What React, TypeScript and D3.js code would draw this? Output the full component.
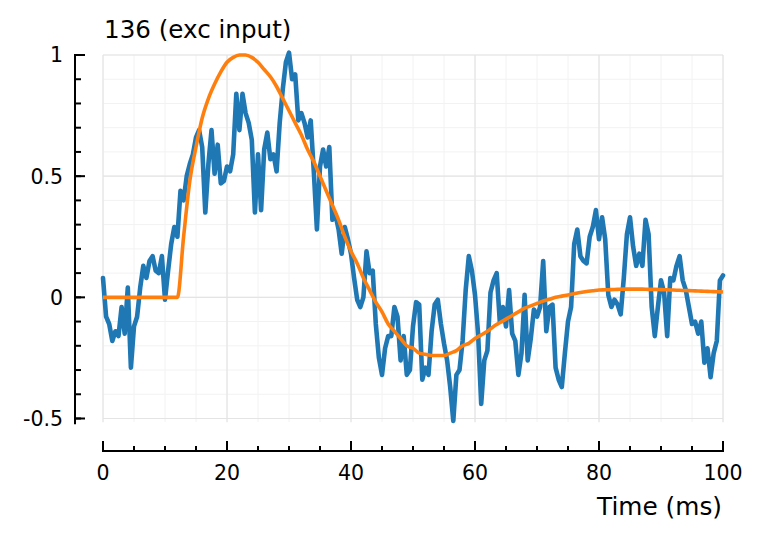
import React from 'react';
import * as d3 from 'd3';

// sampled response, one value every 0.5 ms from 0 to 100 ms
const inputStep = 0.5;
const inputValues = [
  0.08, -0.08, -0.11, -0.18, -0.14, -0.16, -0.04, -0.15, 0.04, -0.29,
  -0.12, -0.08, 0.04, 0.13, 0.08, 0.15, 0.17, 0.11, 0.10, 0.17,
  -0.01, 0.11, 0.22, 0.29, 0.25, 0.44, 0.40, 0.50, 0.55, 0.59,
  0.66, 0.69, 0.62, 0.35, 0.55, 0.69, 0.51, 0.63, 0.47, 0.48,
  0.54, 0.52, 0.59, 0.84, 0.69, 0.84, 0.76, 0.72, 0.65, 0.35,
  0.59,
  0.36, 0.61, 0.68, 0.57, 0.59, 0.52, 0.72, 0.86, 0.97, 1.01,
  0.90, 0.92, 0.73, 0.76, 0.72, 0.66, 0.73, 0.52, 0.28, 0.54,
  0.61, 0.54, 0.62, 0.32, 0.34, 0.28, 0.18, 0.29, 0.24, 0.18,
  0.08, -0.01, -0.04, 0.0, 0.19, 0.10, 0.11, -0.11, -0.25, -0.32,
  -0.21, -0.16, -0.16, -0.04, -0.08, -0.26, -0.16, -0.32, -0.30, -0.12,
  -0.02, -0.03, -0.34, -0.29, -0.32, -0.14, -0.03, -0.01, -0.11, -0.19,
  -0.26, -0.37, -0.51, -0.32, -0.30, -0.18, 0.03, 0.17, 0.11, 0.01,
  -0.15, -0.44, -0.26, -0.22, 0.02, 0.07, 0.10, -0.10, -0.04, -0.12,
  0.03, -0.15, -0.18, -0.32, -0.23, 0.01, -0.26, -0.17, -0.05, -0.08,
  -0.04, 0.15, -0.14, -0.04, -0.03, -0.29, -0.34, -0.37, -0.23, -0.10,
  -0.04, 0.22, 0.28, 0.17, 0.15, 0.14, 0.25, 0.29, 0.36, 0.24,
  0.33, 0.24, 0.01, -0.04, -0.01, -0.03, -0.07, 0.08, 0.26, 0.33,
  0.21, 0.13, 0.18, 0.13, 0.32, 0.26, -0.04, -0.16, -0.04, 0.07,
  0.02, -0.16, 0.08, 0.07, 0.13, 0.17, 0.07, 0.03, -0.04, -0.11,
  -0.10, -0.15, -0.10, -0.27, -0.21, -0.33, -0.23, -0.18, 0.07, 0.09,
];

// fitted curve, one value every 1 ms
const fitStep = 1;
const fitValues = [
  0, 0, 0, 0, 0, 0, 0, 0, 0, 0, 0, 0, 0,
  0.25, 0.48, 0.62, 0.74, 0.82, 0.88, 0.93, 0.97, 0.99, 1.0,
  1.0, 0.99, 0.97, 0.94, 0.91, 0.87, 0.82, 0.77, 0.72, 0.67,
  0.61, 0.56, 0.50, 0.44, 0.38, 0.32, 0.25, 0.19, 0.14, 0.08,
  0.03, -0.02, -0.06, -0.11, -0.14, -0.17, -0.20, -0.21, -0.23, -0.235,
  -0.24, -0.24, -0.24, -0.23, -0.22, -0.20, -0.19, -0.17, -0.155, -0.14,
  -0.12, -0.105, -0.09, -0.075, -0.06, -0.045, -0.035, -0.025, -0.015, -0.008,
  0.0, 0.005, 0.01, 0.015, 0.02, 0.024, 0.027, 0.03, 0.031, 0.032,
  0.033, 0.034, 0.034, 0.034, 0.034, 0.033, 0.033, 0.032, 0.031, 0.030,
  0.029, 0.028, 0.027, 0.026, 0.025, 0.024, 0.023, 0.022,
];

const xMajor = [0, 20, 40, 60, 80, 100];
const xMinor = d3.range(0, 101, 5);
const yMajor = [-0.5, 0, 0.5, 1];
const yMinor = d3.range(-5, 11).map(d => d / 10);
const yLabels = ['-0.5', '0', '0.5', '1'];

const title = '136 (exc input)';
const xTitle = 'Time (ms)';

const font = 'DejaVu Sans, sans-serif';

export default function App() {
  const x = d3.scaleLinear().domain([0, 100]).range([103, 723]);
  const y = d3.scaleLinear().domain([-0.5, 1]).range([418.5, 55]);
  const yLow = y(-0.515);
  const axisX = 75;
  const axisY = 451;

  const line = d3.line<[number, number]>()
    .x(d => x(d[0]))
    .y(d => y(d[1]));
  const smooth = d3.line<[number, number]>()
    .x(d => x(d[0]))
    .y(d => y(d[1]))
    .curve(d3.curveMonotoneX);

  const inputPts = inputValues.map((v, i) => [i * inputStep, v] as [number, number]);
  const fitPts = fitValues.map((v, i) => [i * fitStep, v] as [number, number]);

  return (
    <svg width={764} height={540} style={{ position: 'absolute', left: 0, top: 0, background: '#fff' }}>
      {/* grid */}
      <g>
        {yMinor.map(d => (
          <line key={'ym' + d} x1={x(0)} x2={x(100)} y1={y(d)} y2={y(d)} stroke="#f2f2f2" strokeWidth={1} />
        ))}
        {xMinor.map(d => (
          <line key={'xm' + d} x1={x(d)} x2={x(d)} y1={y(1)} y2={yLow} stroke="#f2f2f2" strokeWidth={1} />
        ))}
        {yMajor.map(d => (
          <line key={'yM' + d} x1={x(0)} x2={x(100)} y1={y(d)} y2={y(d)} stroke="#e4e4e4" strokeWidth={1.2} />
        ))}
        {xMajor.map(d => (
          <line key={'xM' + d} x1={x(d)} x2={x(d)} y1={y(1)} y2={yLow} stroke="#e4e4e4" strokeWidth={1.2} />
        ))}
      </g>

      {/* left axis */}
      <g stroke="#000" strokeWidth={2}>
        <line x1={axisX} x2={axisX} y1={y(1) - 1} y2={yLow + 2} />
        {yMinor.map(d => (
          <line key={'yt' + d} x1={axisX} x2={axisX + 6} y1={y(d)} y2={y(d)} />
        ))}
        {yMajor.map(d => (
          <line key={'yT' + d} x1={axisX} x2={axisX + 10} y1={y(d)} y2={y(d)} />
        ))}
      </g>
      {yMajor.map((d, i) => (
        <text key={'yl' + d} x={63} y={y(d)} dy="0.36em" textAnchor="end" fontFamily={font} fontSize={20.5} fill="#000">
          {yLabels[i]}
        </text>
      ))}

      {/* bottom axis */}
      <g stroke="#000" strokeWidth={2}>
        <line x1={x(0) - 1} x2={x(100) + 1} y1={axisY} y2={axisY} />
        {xMinor.map(d => (
          <line key={'xt' + d} x1={x(d)} x2={x(d)} y1={axisY} y2={axisY - 5} />
        ))}
        {xMajor.map(d => (
          <line key={'xT' + d} x1={x(d)} x2={x(d)} y1={axisY} y2={axisY - 10} />
        ))}
      </g>
      {xMajor.map(d => (
        <text key={'xl' + d} x={x(d)} y={480} textAnchor="middle" fontFamily={font} fontSize={20.5} fill="#000">
          {d}
        </text>
      ))}
      <text x={722} y={515} textAnchor="end" fontFamily={font} fontSize={24.8} fill="#000">{xTitle}</text>
      <text x={104} y={38} fontFamily={font} fontSize={24.6} fill="#000">{title}</text>

      {/* series */}
      <path d={line(inputPts) ?? ''} fill="none" stroke="#1f77b4" strokeWidth={4.6} strokeLinejoin="round" strokeLinecap="round" />
      <path d={smooth(fitPts) ?? ''} fill="none" stroke="#ff7f0e" strokeWidth={3.6} strokeLinejoin="round" />
    </svg>
  );
}
